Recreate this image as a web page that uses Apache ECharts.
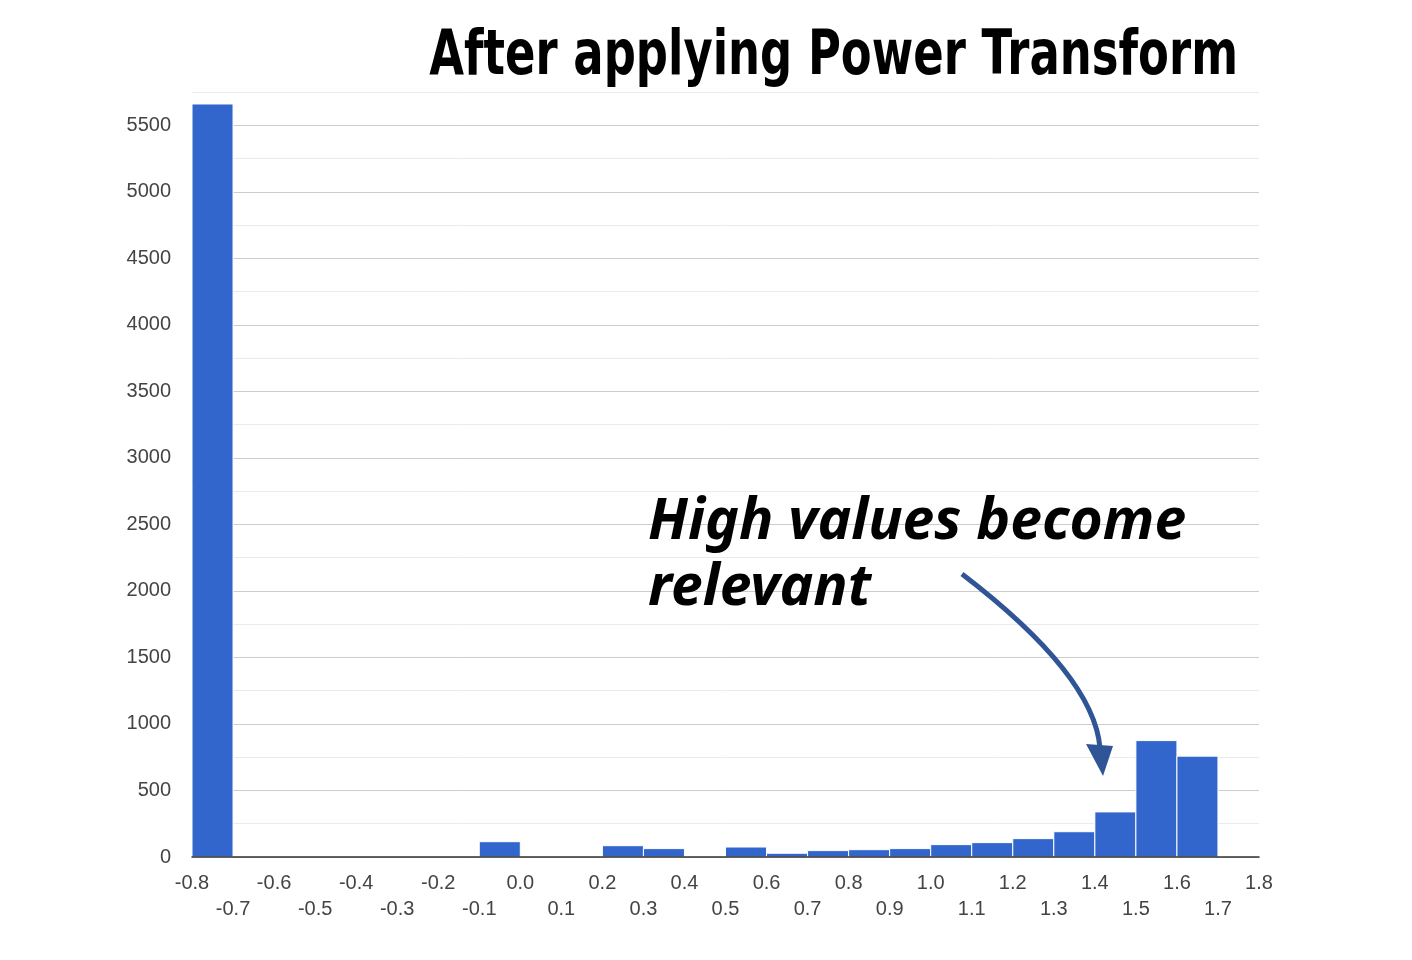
<!DOCTYPE html>
<html>
<head>
<meta charset="utf-8">
<script src="https://cdn.jsdelivr.net/npm/echarts@6/dist/echarts.min.js"></script>
<style>html,body{margin:0;padding:0;background:#fff}#c{width:1412px;height:960px}</style>
</head>
<body>
<div id="c"></div>
<script>
// Histogram bins (start of each 0.1-wide bin) and counts
const binStarts = [-0.8,-0.7,-0.6,-0.5,-0.4,-0.3,-0.2,-0.1,0.0,0.1,0.2,0.3,0.4,0.5,0.6,0.7,0.8,0.9,1.0,1.1,1.2,1.3,1.4,1.5,1.6];
const counts    = [5660,0,0,0,0,0,0,115,0,0,85,63,0,75,28,48,55,63,93,108,138,190,339,875,758];
const binWidth = 0.1;
const titleText = 'After applying Power Transform';
const noteLines = ['High values become', 'relevant'];

const data = binStarts.map((s, i) => [s, +(s + binWidth).toFixed(1), counts[i]]).filter(d => d[2] > 0);

const chart = echarts.init(document.getElementById('c'), null, {renderer: 'canvas'});
const labelFont = '"Liberation Sans", Arial, sans-serif';

chart.setOption({
  animation: false,
  backgroundColor: '#fff',
  grid: {left: 192, right: 153, top: 92, bottom: 103, containLabel: false},
  xAxis: {
    type: 'value', min: -0.8, max: 1.8, interval: 0.1, z: 5,
    axisLine: {show: true, onZero: false, lineStyle: {color: '#333', width: 1.5}},
    axisTick: {show: false},
    splitLine: {show: false},
    axisLabel: {
      margin: 13, color: '#444', fontSize: 20, fontFamily: labelFont, lineHeight: 26,
      showMinLabel: true, showMaxLabel: true,
      formatter: function (v) {
        const idx = Math.round((v + 0.8) * 10);
        const t = (Math.round(v * 10) / 10).toFixed(1);
        return idx % 2 === 1 ? '\n' + t : t;
      }
    }
  },
  yAxis: {
    type: 'value', min: 0, max: 5750, interval: 250,
    axisLine: {show: false}, axisTick: {show: false},
    splitLine: {show: true, lineStyle: {color: ['#cccccc', '#ebebeb'], width: 1}},
    axisLabel: {
      margin: 21, color: '#444', fontSize: 20, fontFamily: labelFont,
      formatter: function (v) { return v % 500 === 0 ? String(v) : ''; }
    }
  },
  series: [{
    type: 'custom',
    data: data,
    encode: {x: [0, 1], y: 2},
    renderItem: function (params, api) {
      const p0 = api.coord([api.value(0), api.value(2)]);
      const p1 = api.coord([api.value(1), 0]);
      return {
        type: 'rect',
        shape: {x: p0[0], y: p0[1], width: p1[0] - p0[0], height: p1[1] - p0[1]},
        style: {fill: '#3366cc', stroke: '#ffffff', lineWidth: 1}
      };
    }
  }],
  graphic: [
    {
      type: 'text', right: 174, top: 27, z: 10,
      style: {text: titleText, font: 'bold 62px "DejaVu Sans", sans-serif', fill: '#000'},
      scaleX: 0.725
    },
    {
      type: 'text', left: 648, top: 490, z: 10,
      style: {text: noteLines.join('\n'), font: 'italic bold 57px "Noto Sans", sans-serif', lineHeight: 66, fill: '#000'}
    },
    {
      type: 'bezierCurve', z: 10,
      shape: {x1: 962, y1: 574, x2: 1100, y2: 748, cpx1: 1094, cpy1: 675},
      style: {stroke: '#2f5597', lineWidth: 5, fill: null}
    },
    {
      type: 'polygon', z: 10,
      shape: {points: [[1086, 744], [1113, 746], [1103, 776]]},
      style: {fill: '#2f5597'}
    }
  ]
});
</script>
</body>
</html>
